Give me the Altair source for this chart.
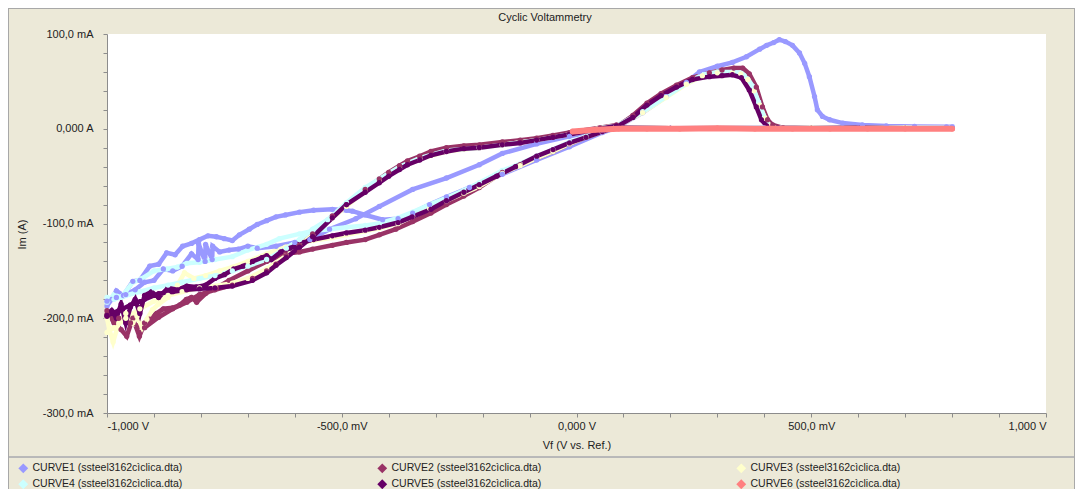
import altair as alt
import pandas as pd

TITLE = "Cyclic Voltammetry"
FILE = "ssteel3162cìclica.dta"
NAMES = ["CURVE1", "CURVE2", "CURVE3", "CURVE4", "CURVE5", "CURVE6"]
LABELS = [f"{n} ({FILE})" for n in NAMES]
COLORS = ["#9999FF", "#993366", "#FFFFCC", "#CCFFFF", "#660066", "#FF8080"]

# ---- CURVE1 ----
c1_fwd_v = [-1000, -990, -980, -965, -945, -930, -909, -890, -873, -855, -839, -820, -803, -785, -767, -750,
            -733, -718, -697, -680, -660, -640, -620, -590, -560, -520, -490, -477, -450, -413, -380, -349,
            -313, -277, -228, -158, -85, -15, 55, 85, 141, 191, 234, 262, 300, 332, 362, 390, 405, 420, 432,
            445, 460, 475, 486, 496, 507, 513, 524, 539, 567, 609, 660, 720, 788, 800]
c1_fwd_i = [-187, -180, -171, -176, -161, -160, -145, -143, -131, -133, -124, -121, -117, -113, -114, -116,
            -118, -112, -106, -101, -97, -93, -91, -88, -86, -85, -86, -87, -91, -96, -95, -89,
            -80, -72, -62, -48, -33, -19, -4, 1, 17, 34, 49, 60, 66, 70, 76, 84, 88, 91, 94,
            92, 88, 80, 69, 55, 34, 20, 13, 9.5, 6, 4, 3, 2.5, 2, 2]
c1_rev_v = [800, 600, 400, 200, 100, 55, -15, -85, -158, -207, -277, -349, -420, -470, -526, -568, -600,
            -640, -680, -700, -720, -740, -760, -775, -776, -790, -791, -805, -806, -820, -840, -860, -880,
            -900, -920, -940, -960, -980, -1000]
c1_rev_i = [1, 1, 1, 0.5, 0.5, -1, -8, -16, -26, -38, -52, -64, -82, -95, -106, -117, -120,
            -124, -126, -124, -127, -128, -130, -124, -138, -122, -140, -121, -138, -132, -145, -150, -148,
            -160, -162, -170, -175, -178, -182]

# ---- CURVE2 ----
c2_fwd_v = [-1000, -985, -970, -958, -945, -931, -920, -909, -895, -880, -860, -845, -831, -820, -809, -790,
            -767, -740, -700, -660, -620, -590, -562, -520, -490, -450, -420, -385, -349, -310, -277, -240,
            -207, -158, -120, -85, -50, -15, 20, 55, 85, 120, 150, 180, 213, 247, 283, 310, 335, 354, 368,
            383, 396, 407, 418, 440, 500, 600, 700, 800]
c2_fwd_i = [-192, -205, -212, -219, -200, -219, -205, -201, -195, -190, -189, -186, -180, -178, -183, -174,
            -168, -160, -150, -140, -132, -130, -127, -123, -120, -117, -112, -106, -98, -89, -80, -71,
            -62, -46, -38, -31, -24, -16, -9, -3, 2, 14, 27, 37, 46, 54, 59, 62, 64, 64, 58,
            44, 23, 9.5, 4, 1, 0.5, 1, 0.5, 0.5]
c2_rev_v = [800, 600, 400, 200, 100, 85, 50, -15, -50, -85, -120, -158, -207, -240, -277, -310, -334, -360,
            -377, -400, -420, -450, -490, -520, -562, -590, -618, -640, -660, -690, -733, -770, -803, -830,
            -860, -890, -920, -950, -975, -1000]
c2_rev_i = [0.5, 0.5, 0.5, 0.5, 1, 4, 1, -4, -7, -10, -12, -14, -17, -18, -20, -24, -29, -34,
            -39, -46, -53, -64, -80, -92, -111, -123, -134, -143, -150, -158, -165, -170, -175, -183,
            -190, -199, -210, -205, -200, -196]

# ---- CURVE3 ----
c3_fwd_v = [-1000, -995, -987, -975, -960, -945, -936, -925, -915, -903, -890, -870, -850, -835, -815, -790,
            -760, -733, -700, -660, -620, -590, -560, -520, -490, -450, -420, -380, -349, -313, -277, -240,
            -207, -158, -120, -85, -50, -15, 20, 55, 85, 141, 191, 234, 268, 300, 332, 350, 365, 378, 390,
            402, 412, 422, 500, 600, 700, 800]
c3_fwd_i = [-200, -212, -225, -205, -195, -205, -198, -210, -201, -191, -185, -178, -165, -152, -158, -155,
            -150, -146, -140, -132, -125, -121, -118, -115, -112, -108, -105, -100, -92, -84, -76, -68,
            -61, -47, -39, -31, -24, -16, -9, -3, 2, 17, 33, 47, 56, 59, 59, 58, 52, 40, 25,
            11, 3, 1, 1, 0.5, 1, 0.5]
c3_rev_v = [800, 600, 400, 200, 100, 85, 50, -15, -85, -158, -207, -277, -334, -377, -420, -450, -490, -520,
            -562, -590, -618, -660, -700, -733, -770, -803, -840, -870, -900, -930, -960, -985, -1000]
c3_rev_i = [0.5, 0.5, 0.5, 0.5, 1, 3, 0.5, -6, -12, -17, -20, -24, -32, -42, -55, -65, -82, -94,
            -112, -123, -134, -148, -158, -163, -166, -168, -172, -176, -182, -190, -200, -210, -215]

# ---- CURVE4 ----
c4_fwd_v = [-1000, -985, -970, -945, -925, -900, -873, -850, -830, -803, -770, -733, -700, -660, -633, -590,
            -562, -526, -490, -450, -420, -380, -349, -313, -277, -240, -207, -158, -120, -85, -50, -15, 20,
            55, 85, 141, 191, 234, 268, 300, 332, 350, 362, 375, 388, 400, 410, 420, 500, 600, 700, 800]
c4_fwd_i = [-183, -175, -178, -162, -158, -150, -148, -146, -142, -141, -138, -135, -128, -122, -116, -111,
            -108, -106, -104, -102, -100, -94, -88, -80, -73, -65, -57, -44, -37, -29, -22, -14, -8,
            -2, 3, 18, 34, 48, 57, 60, 60, 59, 55, 45, 28, 12, 3, 1, 1, 0.5, 1, 1]
c4_rev_v = [800, 600, 400, 200, 100, 85, 50, -15, -85, -158, -207, -277, -334, -377, -420, -450, -490, -530,
            -562, -590, -618, -660, -700, -733, -770, -803, -840, -870, -900, -930, -960, -985, -1000]
c4_rev_i = [1, 1, 1, 0.5, 1, 3, 0.5, -6, -12, -17, -20, -23, -31, -40, -53, -62, -78, -96,
            -106, -117, -126, -138, -145, -150, -155, -158, -162, -165, -168, -172, -176, -180, -178]

# ---- CURVE5 ----
c5_fwd_v = [-1000, -990, -980, -970, -960, -950, -940, -930, -920, -905, -890, -870, -850, -830, -810, -790,
            -770, -750, -730, -710, -690, -670, -660, -650, -630, -610, -590, -560, -520, -490, -450, -420,
            -380, -350, -310, -277, -240, -207, -170, -130, -85, -50, -15, 20, 55, 85, 120, 150, 180, 213,
            247, 283, 310, 332, 351, 368, 383, 394, 405, 430, 500, 600, 700, 800]
c5_fwd_i = [-198, -192, -200, -185, -205, -188, -180, -195, -176, -172, -178, -168, -170, -166, -167, -165,
            -158, -154, -148, -145, -140, -136, -134, -138, -130, -126, -121, -117, -113, -110, -107, -104,
            -99, -93, -85, -76, -67, -59, -50, -40, -29, -22, -15, -9, -3, 2, 12, 25, 35, 44,
            52, 55, 56, 57, 54, 41, 23, 9.5, 3, 1, 0.5, 1, 0.5, 0.5]
c5_rev_v = [800, 600, 400, 200, 100, 85, 50, -15, -50, -85, -120, -158, -207, -240, -277, -310, -334, -360,
            -377, -400, -420, -450, -490, -520, -562, -590, -618, -640, -660, -690, -733, -770, -803, -830,
            -860, -890, -920, -950, -975, -1000]
c5_rev_i = [0.5, 0.5, 0.5, 0.5, 1, 3, 0, -6, -9, -12, -15, -17, -20, -21, -24, -28, -33, -38,
            -43, -50, -57, -67, -80, -94, -114, -125, -136, -144, -152, -160, -166, -168, -169, -170,
            -172, -174, -180, -186, -192, -197]

# ---- CURVE6 ----
c6_v = [-8, 40, 90, 150, 220, 300, 380, 460, 540, 620, 700, 800]
c6_i = [-3, -1, 0, 0, 0, 0.5, 0, 0, 0, 0, 0, 0]

series = [
    (c1_fwd_v + c1_rev_v, c1_fwd_i + c1_rev_i),
    (c2_fwd_v + c2_rev_v, c2_fwd_i + c2_rev_i),
    (c3_fwd_v + c3_rev_v, c3_fwd_i + c3_rev_i),
    (c4_fwd_v + c4_rev_v, c4_fwd_i + c4_rev_i),
    (c5_fwd_v + c5_rev_v, c5_fwd_i + c5_rev_i),
    (c6_v, c6_i),
]

rows = []
for k, (vs, cs) in enumerate(series):
    for j, (v, c) in enumerate(zip(vs, cs)):
        rows.append({"curve": LABELS[k], "V": v, "I": c, "idx": j})
df = pd.DataFrame(rows)

FONT = "Liberation Sans"
GRAY = "#8C8C8C"

x_lbl = ("datum.value == 0 ? '0,000 V' : abs(datum.value) == 1000 ? (datum.value < 0 ? '-1,000 V' : '1,000 V')"
         " : abs(datum.value) == 500 ? (datum.value < 0 ? '-500,0 mV' : '500,0 mV') : ''")
y_lbl = ("datum.value == 0 ? '0,000 A' : (datum.value % 100 == 0 ? "
         "(datum.value < 0 ? '-' : '') + abs(datum.value) + ',0 mA' : '')")

xenc = alt.X("V:Q", scale=alt.Scale(domain=[-1000, 1000], nice=False, zero=False),
             axis=alt.Axis(values=list(range(-1000, 1001, 100)), labelExpr=x_lbl, title="Vf (V vs. Ref.)",
                           grid=False, tickSize=4, tickColor=GRAY, domainColor=GRAY, labelFont=FONT,
                           labelFontSize=11, labelColor="#222222", labelPadding=3, labelOverlap=False,
                           titleFont=FONT, titleFontSize=11, titleFontWeight="normal", titleColor="#222222",
                           titlePadding=8))
yenc = alt.Y("I:Q", scale=alt.Scale(domain=[-300, 100], nice=False, zero=False),
             axis=alt.Axis(values=list(range(-300, 101, 20)), labelExpr=y_lbl, title="Im (A)",
                           grid=False, tickSize=4, tickColor=GRAY, domainColor=GRAY, labelFont=FONT,
                           labelFontSize=11, labelColor="#222222", labelPadding=10, labelOverlap=False,
                           titleFont=FONT, titleFontSize=11, titleFontWeight="normal", titleColor="#222222",
                           titleX=-85, titleY=200, titleBaseline="middle"))
color = alt.Color("curve:N", scale=alt.Scale(domain=LABELS, range=COLORS),
                  legend=alt.Legend(title=None, orient="none", legendX=-89, legendY=429, columns=3,
                                    direction="horizontal",
                                    columnPadding=191, rowPadding=0, symbolType="diamond", symbolSize=50,
                                    symbolStrokeWidth=2, labelFont=FONT, labelFontSize=10.5,
                                    labelColor="#222222", padding=0))

base = alt.Chart(df)
curves = base.transform_filter(alt.datum.curve != LABELS[5]).mark_line(
    strokeWidth=4.5, point=alt.OverlayMarkDef(filled=True, size=28, opacity=1)
).encode(x=xenc, y=yenc, color=color, order="idx:Q")
c6 = base.transform_filter(alt.datum.curve == LABELS[5]).mark_line(
    strokeWidth=6, strokeCap="round", point=alt.OverlayMarkDef(filled=True, size=30, opacity=1)
).encode(x=xenc, y=yenc, color=color, order="idx:Q")

title_df = pd.DataFrame({"t": [TITLE]})
title_txt = alt.Chart(title_df).mark_text(font=FONT, fontSize=11, color="#222222", align="center",
                                          baseline="middle").encode(
    text="t:N", x=alt.value(438), y=alt.value(-16))

sep = alt.Chart(df).mark_rule(color="#B8B8B8", strokeWidth=1).encode(
    x=alt.value(-99), x2=alt.value(968), y=alt.value(423))
frame_r = alt.Chart(df).mark_rule(color="#A8A8A8", strokeWidth=1).encode(
    x=alt.value(968), y=alt.value(-26), y2=alt.value(455))
frame_l = alt.Chart(df).mark_rule(color="#A8A8A8", strokeWidth=1).encode(
    x=alt.value(-98.5), y=alt.value(-26), y2=alt.value(455))
frame_t = alt.Chart(df).mark_rule(color="#A8A8A8", strokeWidth=1).encode(
    x=alt.value(-99), x2=alt.value(968), y=alt.value(-25.5))

chart = alt.layer(curves, c6, title_txt, sep, frame_r, frame_l, frame_t).properties(
    width=939, height=379,
    autosize=alt.AutoSizeParams(type="none"),
    padding={"left": 99, "top": 26, "right": 29, "bottom": 76},
    background="#ECE9D8",
).configure_view(stroke=None, fill="white")

chart.save("out.html", embed_options={"renderer": "svg", "actions": False})
